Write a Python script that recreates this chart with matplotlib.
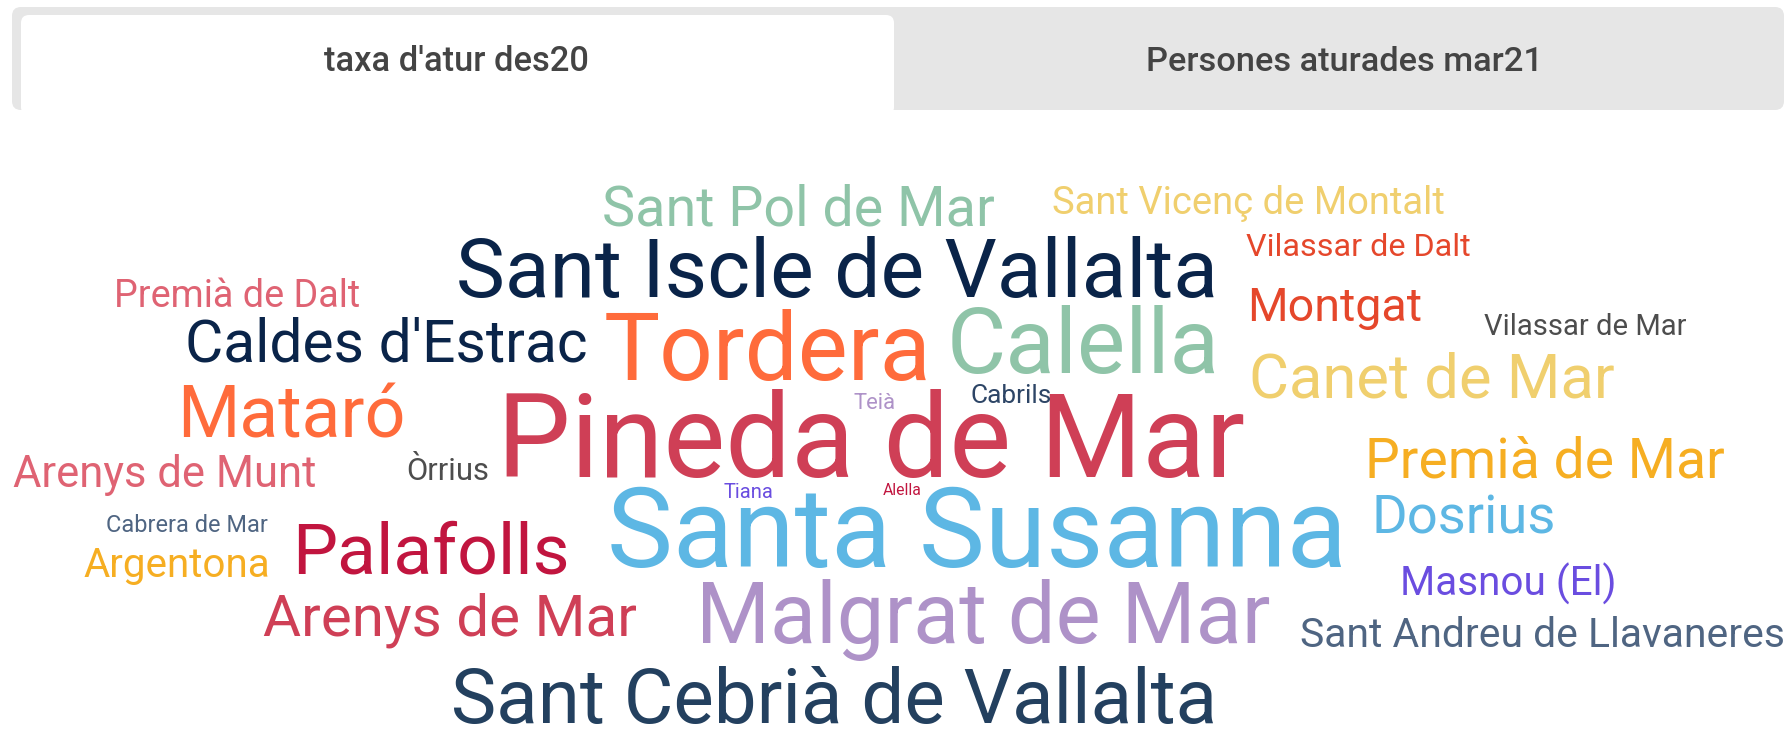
import matplotlib
matplotlib.use('Agg')
import matplotlib.pyplot as plt
from matplotlib.patches import FancyBboxPatch, Rectangle

plt.rcParams['font.family'] = ['Roboto', 'DejaVu Sans']

W, H = 1791, 746

# tabs
tab_labels = ["taxa d'atur des20", "Persones aturades mar21"]

# municipalities, biggest words first
words = ['Pineda de Mar', 'Santa Susanna', 'Sant Iscle de Vallalta', 'Sant Cebrià de Vallalta',
         'Malgrat de Mar', 'Tordera', 'Calella', 'Palafolls', 'Mataró', 'Sant Pol de Mar',
         'Canet de Mar', 'Arenys de Mar', 'Premià de Mar', 'Caldes d\'Estrac', 'Dosrius',
         'Montgat', 'Arenys de Munt', 'Premià de Dalt', 'Sant Vicenç de Montalt',
         'Masnou (El)', 'Argentona', 'Sant Andreu de Llavaneres', 'Vilassar de Dalt',
         'Vilassar de Mar', 'Òrrius', 'Cabrera de Mar', 'Cabrils', 'Teià', 'Tiana', 'Alella']

colors = ['#cf3f56', '#5db7e4', '#0a2449', '#23405f',
          '#ae92c8', '#ff6b3b', '#8fc4a8', '#c1153f', '#ff6b3b', '#8fc4a8',
          '#f0cf6e', '#cf3f56', '#f6ae22', '#0a2449', '#5db7e4',
          '#e5472b', '#df6373', '#df6373', '#f0cf6e',
          '#6a4de0', '#f6ae22', '#4f6582', '#e5472b',
          '#4d4d4d', '#4d4d4d', '#4f6582', '#2d4566', '#ae92c8', '#6a4de0', '#c1153f']

# layout of the cloud: left, right, baseline (pixels)
layout = [(497, 1245, 477), (607, 1346, 567), (456, 1214, 297), (451, 1214, 723),
          (696, 1269, 643), (604, 931, 380), (947, 1216, 373), (292, 568, 573), (177, 405, 437), (602, 994, 225),
          (1249, 1614, 398), (263, 638, 635), (1365, 1725, 477), (185, 586, 362), (1372, 1557, 533),
          (1247, 1421, 321), (13, 317, 487), (114, 360, 307), (1052, 1444, 214),
          (1400, 1616, 596), (83, 270, 577), (1300, 1785, 647), (1246, 1470, 256),
          (1484, 1687, 335), (406, 489, 480), (106, 267, 532), (970, 1051, 403), (854, 896, 409), (724, 774, 498), (883, 921, 495)]

fig = plt.figure(figsize=(W / 100, H / 100), dpi=100)
ax = fig.add_axes([0, 0, 1, 1])
ax.set_xlim(0, W)
ax.set_ylim(H, 0)
ax.axis('off')

# tab bar
ax.add_patch(FancyBboxPatch((12, 7), 1772, 103, boxstyle='round,pad=0,rounding_size=9',
                            fc='#e6e6e6', ec='none'))
ax.add_patch(FancyBboxPatch((21, 15), 873, 100, boxstyle='round,pad=0,rounding_size=8',
                            fc='white', ec='none'))
ax.add_patch(Rectangle((0, 110), W, H - 110, fc='white', ec='none'))

renderer = fig.canvas.get_renderer()


def fit_text(x0, x1, y, s, **kw):
    t = ax.text(x0, y, s, fontsize=10, ha='left', va='baseline', **kw)
    w = t.get_window_extent(renderer).width
    t.set_fontsize(10 * (x1 - x0) / w)
    return t


fit_text(324, 588, 71, tab_labels[0], color='#444444', fontweight='medium')
fit_text(1146, 1542, 71, tab_labels[1], color='#444444', fontweight='medium')

for word, c, (x0, x1, yb) in zip(words, colors, layout):
    fit_text(x0, x1, yb, word, color=c)

fig.savefig('out.png', dpi=100)
